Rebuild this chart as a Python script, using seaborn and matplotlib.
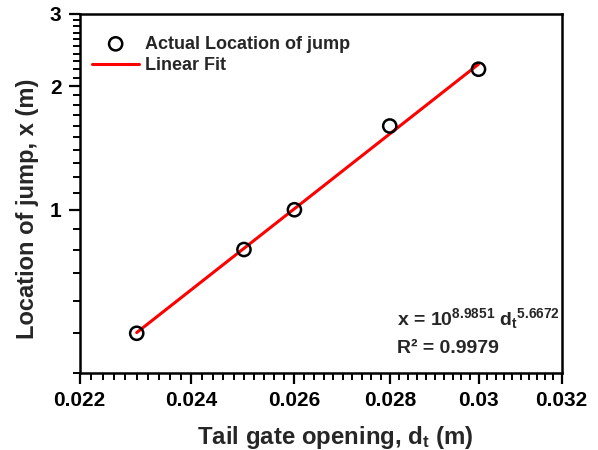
import numpy as np
import pandas as pd
import matplotlib
matplotlib.use("Agg")
import matplotlib.pyplot as plt
from matplotlib.ticker import FixedLocator, MultipleLocator, FixedFormatter, NullFormatter
import seaborn as sns

# Data
gate_opening = [0.023, 0.025, 0.026, 0.028, 0.030]
jump_location = [0.50, 0.80, 1.00, 1.60, 2.20]
fit_log_coef = 8.9851
fit_exponent = 5.6672
r_squared = 0.9979
x_ticks = [0.022, 0.024, 0.026, 0.028, 0.030, 0.032]
x_tick_labels = ["0.022", "0.024", "0.026", "0.028", "0.03", "0.032"]
y_ticks = [1, 2, 3]
y_tick_labels = ["1", "2", "3"]

sns.set_style("ticks")
plt.rcParams["font.family"] = ["Liberation Sans", "DejaVu Sans"]
plt.rcParams["font.weight"] = "bold"
plt.rcParams["mathtext.default"] = "regular"
plt.rcParams.update({
    "axes.edgecolor": "black", "axes.linewidth": 1.8,
    "xtick.major.size": 8, "ytick.major.size": 8,
    "xtick.minor.size": 5, "ytick.minor.size": 5,
    "xtick.major.width": 1.6, "ytick.major.width": 1.6,
    "xtick.minor.width": 1.4, "ytick.minor.width": 1.4,
    "xtick.color": "black", "ytick.color": "black",
    "xtick.direction": "out", "ytick.direction": "out",
    "xtick.major.pad": 5, "ytick.major.pad": 5,
    "xtick.labelsize": 15, "ytick.labelsize": 15,
})

df = pd.DataFrame({"d": gate_opening, "x": jump_location})
fit_d = np.array([min(gate_opening), max(gate_opening)])
fit_df = pd.DataFrame({"d": fit_d, "x": 10 ** fit_log_coef * fit_d ** fit_exponent})

fig, ax = plt.subplots(figsize=(5.98, 4.5), dpi=100)
fig.subplots_adjust(left=0.133, right=0.939, bottom=0.171, top=0.969)

sns.scatterplot(data=df, x="d", y="x", ax=ax, marker="o", s=90,
                facecolor="none", edgecolor="black", linewidth=1.8,
                label="Actual Location of jump", zorder=3)
sns.lineplot(data=fit_df, x="d", y="x", ax=ax, color="#ff0000", linewidth=2.2,
             label="Linear Fit", zorder=2)

ax.set_xscale("log")
ax.set_yscale("log")
ax.set_xlim(0.022, 0.032)
ax.set_ylim(0.4, 3)
ax.xaxis.set_major_locator(FixedLocator(x_ticks))
ax.xaxis.set_major_formatter(FixedFormatter(x_tick_labels))
ax.xaxis.set_minor_locator(MultipleLocator(0.0002))
ax.xaxis.set_minor_formatter(NullFormatter())
ax.yaxis.set_major_locator(FixedLocator(y_ticks))
ax.yaxis.set_major_formatter(FixedFormatter(y_tick_labels))
ax.yaxis.set_minor_locator(MultipleLocator(0.1))
ax.yaxis.set_minor_formatter(NullFormatter())

ax.set_xlabel("Tail gate opening, d$_t$ (m)", fontsize=17.3, fontweight="bold")
ax.set_ylabel("Location of jump, x (m)", fontsize=17, fontweight="bold")
ax.xaxis.set_label_coords(0.53, -0.142)
ax.yaxis.set_label_coords(-0.085, 0.457)

leg = ax.legend(loc="upper left", frameon=False, fontsize=13,
                handlelength=2.6, handletextpad=0.3, labelspacing=0.25,
                borderaxespad=0.3, bbox_to_anchor=(0.0, 0.975))
for t in leg.get_texts():
    t.set_fontweight("bold")

ax.text(0.659, 0.134, "x = 10$^{%.4f}$ d$_t$$^{%.4f}$" % (fit_log_coef, fit_exponent),
        transform=ax.transAxes, fontsize=14, fontweight="bold", ha="left", va="baseline")
ax.text(0.659, 0.056, "R² = %.4f" % r_squared,
        transform=ax.transAxes, fontsize=14, fontweight="bold", ha="left", va="baseline")

fig.savefig("out.png", dpi=100, facecolor="white")
